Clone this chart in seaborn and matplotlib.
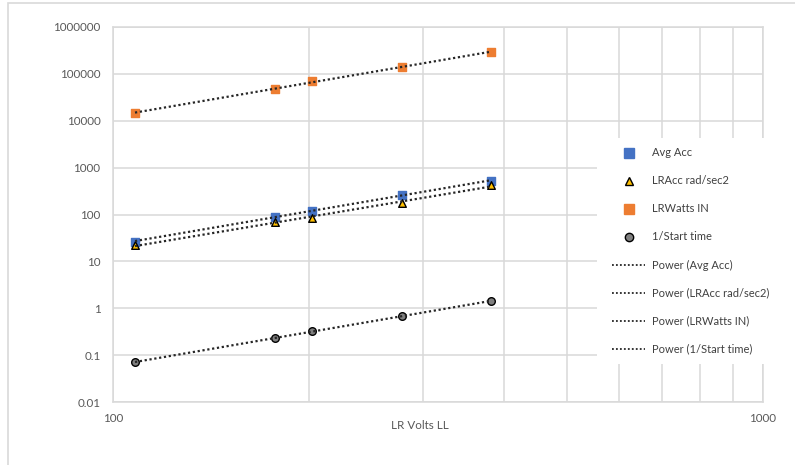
import numpy as np
import pandas as pd
import matplotlib
matplotlib.use("Agg")
import matplotlib.pyplot as plt
from matplotlib.lines import Line2D
from matplotlib.patches import Rectangle
from matplotlib.ticker import FixedLocator, FuncFormatter, NullFormatter
import seaborn as sns

# Measured values
lr_volts = [108.1, 177.5, 202.2, 278.4, 382.0]
avg_acc = [26.5, 90.0, 119.0, 266.0, 520.0]
lracc_rad_sec2 = [22.0, 68.0, 86.0, 177.0, 428.0]
lrwatts_in = [14500.0, 48400.0, 69500.0, 142600.0, 288000.0]
inv_start_time = [0.071, 0.23, 0.32, 0.69, 1.42]

series_names = ["Avg Acc", "LRAcc rad/sec2", "LRWatts IN", "1/Start time"]
series_values = [avg_acc, lracc_rad_sec2, lrwatts_in, inv_start_time]
y_tick_values = [0.01, 0.1, 1, 10, 100, 1000, 10000, 100000, 1000000]
x_tick_values = [100, 1000]

styles = {
    "Avg Acc": dict(marker="s", color="#4472C4", edgecolor="#4472C4", s=38),
    "LRAcc rad/sec2": dict(marker="^", color="#FFC000", edgecolor="black", s=30),
    "LRWatts IN": dict(marker="s", color="#ED7D31", edgecolor="#ED7D31", s=38),
    "1/Start time": dict(marker="o", color="#808080", edgecolor="black", s=30),
}

sns.set_style("white")
plt.rcParams["font.family"] = ["Lato", "DejaVu Sans"]

W, H = 795, 465
fig = plt.figure(figsize=(W / 100, H / 100), dpi=100)
ax = fig.add_axes([113 / W, 1 - 402 / H, 650 / W, 375 / H])

grid_c = "#d9d9d9"
ax.set_xscale("log")
ax.set_yscale("log")
ax.set_xlim(100, 1000)
ax.set_ylim(0.01, 1000000)

# gridlines: decades on y, every hundred on x
ax.yaxis.set_major_locator(FixedLocator(y_tick_values))
ax.yaxis.set_minor_locator(FixedLocator([]))
ax.xaxis.set_major_locator(FixedLocator(x_tick_values))
ax.xaxis.set_minor_locator(FixedLocator(list(range(200, 1000, 100))))
ax.xaxis.set_minor_formatter(NullFormatter())
ax.grid(True, which="major", color=grid_c, linewidth=1.1)
ax.grid(True, which="minor", axis="x", color=grid_c, linewidth=1.1)
ax.set_axisbelow(True)
for sp in ax.spines.values():
    sp.set_color(grid_c)
    sp.set_linewidth(1.1)


def fmt(v, _pos):
    return f"{int(round(v))}" if v >= 1 else f"{v:g}"


ax.yaxis.set_major_formatter(FuncFormatter(fmt))
ax.xaxis.set_major_formatter(FuncFormatter(fmt))
ax.tick_params(axis="both", which="both", length=0, labelsize=8.4, labelcolor="#595959")
ax.tick_params(axis="y", pad=9)
ax.tick_params(axis="x", pad=8)

x_arr = np.array(lr_volts)
dot = (0, (1, 1.2))
for name, vals in zip(series_names, series_values):
    y_arr = np.array(vals)
    # power-law trendline fitted in log-log space
    b, a = np.polyfit(np.log10(x_arr), np.log10(y_arr), 1)
    fit = pd.DataFrame({"x": x_arr, "y": 10 ** (a + b * np.log10(x_arr))})
    sns.lineplot(data=fit, x="x", y="y", ax=ax, color="#262626",
                 linewidth=1.6, linestyle=dot, zorder=3)
    st = styles[name]
    sns.scatterplot(x=x_arr, y=y_arr, ax=ax, marker=st["marker"], color=st["color"],
                    edgecolor=st["edgecolor"], s=st["s"], linewidth=1.0, zorder=2)

ax.set_xlabel("")
ax.set_ylabel("")

# white panel behind the legend
ax.add_patch(Rectangle((597 / W, 1 - 364 / H), 200 / W, 226 / H,
                       transform=fig.transFigure, facecolor="white",
                       edgecolor="none", zorder=4, clip_on=False))

handles = []
for name in series_names:
    st = styles[name]
    handles.append(Line2D([], [], linestyle="none", marker=st["marker"],
                          markerfacecolor=st["color"], markeredgecolor=st["edgecolor"],
                          markersize=6.5 if st["marker"] == "s" else 6, markeredgewidth=1.0))
labels = list(series_names)
for name in series_names:
    handles.append(Line2D([], [], color="#262626", linewidth=1.3, linestyle=dot))
    labels.append(f"Power ({name})")

leg = fig.legend(handles, labels, loc="upper left",
                 bbox_to_anchor=(612 / W, 1 - 147.5 / H), bbox_transform=fig.transFigure,
                 frameon=False, fontsize=8, handlelength=3.0, handletextpad=0.6,
                 labelspacing=1.53, borderpad=0, borderaxespad=0)
for t in leg.get_texts():
    t.set_color("#404040")
leg.set_zorder(5)

fig.text(420 / W, 1 - 425 / H, "LR Volts LL", ha="center", va="center",
         fontsize=8.4, color="#595959")

# outer chart frame
fig.patches.append(Rectangle((8 / W, -0.1), 1.2, 1 - 3 / H + 0.1,
                             transform=fig.transFigure, facecolor="none",
                             edgecolor="#d9d9d9", linewidth=1.2))

fig.savefig("out.png", dpi=100)
